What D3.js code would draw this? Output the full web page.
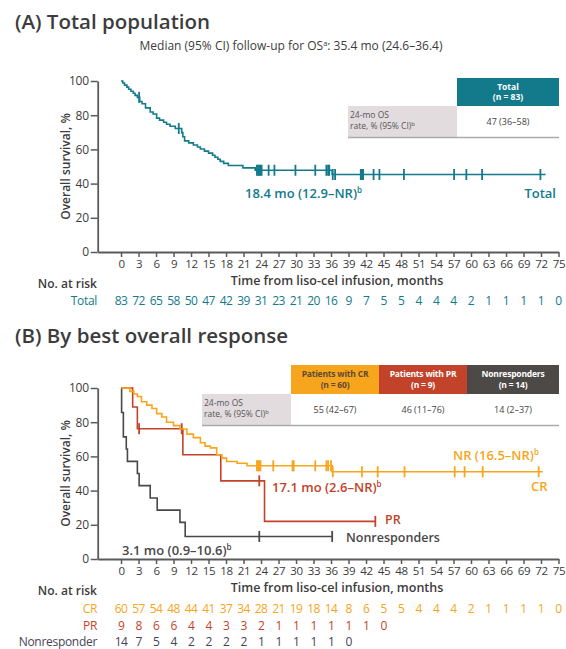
<!DOCTYPE html>
<html><head><meta charset="utf-8">
<script src="https://cdn.jsdelivr.net/npm/d3@7"></script>
<style>
body{margin:0;background:#fff}
svg{display:block}
text{font-family:"Open Sans",Lato,sans-serif}
</style>
</head><body>
<svg id="c" width="566" height="649"></svg>
<script>
// ---------- data ----------
const months = d3.range(0, 76, 3);
const yTicks = [0, 20, 40, 60, 80, 100];

// Panel A: total population
const totalTimes = [0, 0.3, 0.6, 1.0, 1.3, 1.7, 2.1, 2.4, 2.8, 3.2, 3.6, 4.2, 5.0, 5.5, 6.1, 6.6, 7.3, 7.8, 8.4, 9.3, 10.4, 10.6, 10.9, 11.6, 12.4, 13.1, 13.6, 14.3, 15.0, 15.7, 16.1, 16.6, 17.0, 17.6, 18.4, 20.9, 23.0, 36.2];
const totalSurv  = [100, 98.8, 97.6, 96.4, 95.2, 94.0, 92.8, 91.6, 90.4, 88.0, 86.7, 84.3, 81.9, 80.7, 78.3, 77.1, 75.9, 74.7, 73.5, 72.2, 69.8, 67.4, 65.0, 63.8, 62.6, 61.4, 60.2, 59.0, 57.8, 56.6, 55.4, 54.2, 53.0, 51.8, 50.6, 49.2, 47.8, 45.3];
const totalCensor = [3.1, 9.9, 23.3, 23.5, 23.7, 23.9, 24.1, 25.3, 26.3, 29.9, 33.3, 35.2, 35.5, 35.7, 36.3, 36.7, 41.1, 41.3, 41.5, 43.3, 44.3, 48.5, 57.1, 59.2, 61.9, 71.9];
const totalEnd = 72.8;
const riskTotal = [83, 72, 65, 58, 50, 47, 42, 39, 31, 23, 21, 20, 16, 9, 7, 5, 5, 4, 4, 4, 2, 1, 1, 1, 1, 0];

// Panel B: by best overall response
const crTimes = [0, 1.5, 2.2, 2.8, 3.5, 4.4, 5.3, 6.1, 7.0, 7.8, 9.0, 10.1, 11.3, 12.4, 13.6, 14.4, 15.3, 16.4, 17.3, 18.1, 19.9, 21.6, 36.2];
const crSurv  = [100, 98, 96.5, 95, 92, 90, 88, 85, 83, 80, 78, 76, 73, 71, 68, 66, 65, 61, 59, 57, 56, 54.5, 51];
const crCensor = [23.3, 23.5, 23.7, 23.9, 26.1, 29.4, 29.6, 33.3, 35.2, 35.5, 36.0, 36.3, 41.3, 44.0, 48.6, 57.2, 58.9, 62.0, 71.6];
const crEnd = 72.3;

const prTimes = [0, 2.0, 2.8, 10.6, 17.1, 24.6];
const prSurv  = [100, 88.9, 76.2, 61.0, 45.7, 22.0];
const prCensor = [3.1, 10.4, 23.7, 43.6];
const prEnd = 43.6;

const nrTimes = [0, 0.1, 0.4, 0.9, 1.1, 2.8, 3.1, 5.0, 6.2, 10.1, 11.0];
const nrSurv  = [100, 85.7, 71.4, 64.3, 57.1, 50, 42.9, 35.7, 28.6, 21.4, 13.2];
const nrCensor = [23.7, 36.2];
const nrEnd = 36.2;

const riskCR = [60, 57, 54, 48, 44, 41, 37, 34, 28, 21, 19, 18, 14, 8, 6, 5, 5, 4, 4, 4, 2, 1, 1, 1, 1, 0];
const riskPR = [9, 8, 6, 6, 4, 4, 3, 3, 2, 1, 1, 1, 1, 1, 1, 0];
const riskNR = [14, 7, 5, 4, 2, 2, 2, 2, 1, 1, 1, 1, 1, 0];

// tables
const tableAHeader = ["Total", "(n = 83)"];
const tableAValues = ["47 (36\u201358)"];
const tableBHeaders = [["Patients with CR", "(n = 60)"], ["Patients with PR", "(n = 9)"], ["Nonresponders", "(n = 14)"]];
const tableBValues = ["55 (42\u201367)", "46 (11\u201376)", "14 (2\u201337)"];

// ---------- styles ----------
const C = {teal: "#137a8b", cr: "#f7a51d", pr: "#c2432a", nr: "#4a4747", axis: "#5a5a5a", text: "#3c3c3c", cell: "#e3dcdf"};

const svg = d3.select("#c");
const x = d3.scaleLinear().domain([-4, 75]).range([97.7, 558.5]);

function title(txt, y) {
  svg.append("text").attr("x", 15).attr("y", y).attr("font-size", 20.5).attr("font-weight", 600)
    .attr("fill", C.text).text(txt);
}

function axes(y, top, bottom) {
  const gx = svg.append("g").attr("transform", `translate(0,${bottom})`)
    .call(d3.axisBottom(x).tickValues(months).tickSize(5).tickSizeOuter(0).tickPadding(3));
  const gy = svg.append("g").attr("transform", `translate(97.7,0)`)
    .call(d3.axisLeft(y).tickValues(yTicks).tickSize(7).tickSizeOuter(0).tickPadding(2));
  [gx, gy].forEach(g => {
    g.selectAll("path,line").attr("stroke", C.axis).attr("stroke-width", 1.5);
    g.select(".domain").attr("stroke-width", 1.8);
  });
  gx.selectAll("text").attr("font-size", 11.5).attr("fill", C.text).attr("font-family", "Open Sans").attr("letter-spacing", -0.4);
  gy.selectAll("text").attr("font-size", 12).attr("fill", C.text).attr("font-family", "Open Sans").attr("letter-spacing", -0.3);
  svg.append("text").attr("transform", `translate(70,${(top + bottom) / 2}) rotate(-90)`)
    .attr("text-anchor", "middle").attr("font-size", 12).attr("font-weight", 600).attr("fill", C.text)
    .text("Overall survival, %");
  svg.append("text").attr("x", 337).attr("y", bottom + 33).attr("text-anchor", "middle")
    .attr("font-size", 12.5).attr("font-weight", 600).attr("fill", C.text)
    .text("Time from liso-cel infusion, months");
  svg.append("text").attr("x", 97).attr("y", bottom + 36).attr("text-anchor", "end")
    .attr("font-size", 12).attr("font-weight", 600).attr("fill", C.text).text("No. at risk");
}

function curve(y, times, surv, censor, end, color) {
  const pts = times.map((t, i) => [t, surv[i]]).concat([[end, surv[surv.length - 1]]]);
  const line = d3.line().x(d => x(d[0])).y(d => y(d[1])).curve(d3.curveStepAfter);
  svg.append("path").attr("d", line(pts)).attr("fill", "none").attr("stroke", color).attr("stroke-width", 1.6);
  const sAt = t => { let v = surv[0]; times.forEach((tt, i) => { if (tt <= t) v = surv[i]; }); return v; };
  svg.append("g").selectAll("line").data(censor).join("line")
    .attr("x1", d => x(d)).attr("x2", d => x(d))
    .attr("y1", d => y(sAt(d)) - 5.5).attr("y2", d => y(sAt(d)) + 5.5)
    .attr("stroke", color).attr("stroke-width", 1.8);
}

function riskRow(values, label, color, yy) {
  svg.append("text").attr("x", 97).attr("y", yy).attr("text-anchor", "end").attr("font-size", 12)
    .attr("fill", color).attr("letter-spacing", -0.3).text(label);
  svg.append("g").selectAll("text").data(values).join("text")
    .attr("x", (d, i) => x(months[i])).attr("y", yy).attr("text-anchor", "middle")
    .attr("font-size", 12).attr("letter-spacing", -0.6).attr("fill", color).text(d => d);
}

function label(parts, xx, yy, color, anchor, size) {
  const t = svg.append("text").attr("x", xx).attr("y", yy).attr("font-size", size || 13).attr("font-weight", 600)
    .attr("fill", color).attr("text-anchor", anchor || "start");
  t.append("tspan").text(parts[0]);
  if (parts[1]) t.append("tspan").attr("dy", -5).attr("font-size", 8).text(parts[1]);
}

// ---------- Panel A ----------
title("(A) Total population", 29);
svg.append("text").attr("x", 291).attr("y", 50).attr("text-anchor", "middle").attr("font-size", 12)
  .attr("fill", C.text).call(t => {
    t.append("tspan").text("Median (95% CI) follow-up for OS");
    t.append("tspan").attr("dy", -4).attr("font-size", 7.5).text("a");
    t.append("tspan").attr("dy", 4).text(": 35.4 mo (24.6\u201336.4)");
  });

const yA = d3.scaleLinear().domain([0, 100]).range([252, 81]);
axes(yA, 81, 252);
curve(yA, totalTimes, totalSurv, totalCensor, totalEnd, C.teal);
label(["18.4 mo (12.9\u2013NR)", "b"], 245, 198, C.teal);
label(["Total"], 556, 198, C.teal, "end");
riskRow(riskTotal, "Total", C.teal, 305);

// table A
svg.append("rect").attr("x", 457).attr("y", 78).attr("width", 102).attr("height", 28).attr("fill", C.teal);
tableAHeader.forEach((s, i) => svg.append("text").attr("x", 508).attr("y", 89.5 + i * 10.5)
  .attr("text-anchor", "middle").attr("font-size", 8.5).attr("font-weight", 700).attr("fill", "#fff").text(s));
svg.append("rect").attr("x", 348).attr("y", 106).attr("width", 109).attr("height", 31).attr("fill", C.cell);
svg.append("text").attr("x", 350).attr("y", 118).attr("font-size", 8.5).attr("fill", "#555").text("24-mo OS");
svg.append("text").attr("x", 350).attr("y", 129).attr("font-size", 8.5).attr("fill", "#555")
  .call(t => { t.append("tspan").text("rate, % (95% CI)"); t.append("tspan").attr("dy", -3).attr("font-size", 6).text("b"); });
tableAValues.forEach(s => svg.append("text").attr("x", 508).attr("y", 125).attr("text-anchor", "middle")
  .attr("font-size", 9).attr("fill", "#444").text(s));
svg.append("line").attr("x1", 348).attr("x2", 559).attr("y1", 137.5).attr("y2", 137.5).attr("stroke", "#aaa").attr("stroke-width", 1.5);

// ---------- Panel B ----------
title("(B) By best overall response", 343);
const yB = d3.scaleLinear().domain([0, 100]).range([559, 388]);
axes(yB, 388, 559);
curve(yB, nrTimes, nrSurv, nrCensor, nrEnd, C.nr);
curve(yB, prTimes, prSurv, prCensor, prEnd, C.pr);
curve(yB, crTimes, crSurv, crCensor, crEnd, C.cr);

label(["NR (16.5\u2013NR)", "b"], 453, 460, C.cr);
label(["CR"], 531, 491, C.cr);
label(["17.1 mo (2.6\u2013NR)", "b"], 272, 492, C.pr);
label(["PR"], 385, 524, C.pr, "start", 12.5);
label(["Nonresponders"], 346, 541.5, C.nr, "start", 12.5);
label(["3.1 mo (0.9\u201310.6)", "b"], 122, 555, C.nr);

riskRow(riskCR, "CR", C.cr, 613);
riskRow(riskPR, "PR", C.pr, 630);
riskRow(riskNR, "Nonresponder", "#444455", 646);

// table B
const colX = [291, 379, 467, 559];
const hdrFill = [C.cr, C.pr, "#4d4947"];
const hdrText = ["#5b4a36", "#fff", "#fff"];
tableBHeaders.forEach((h, i) => {
  svg.append("rect").attr("x", colX[i]).attr("y", 365).attr("width", colX[i + 1] - colX[i]).attr("height", 29).attr("fill", hdrFill[i]);
  h.forEach((s, j) => svg.append("text").attr("x", (colX[i] + colX[i + 1]) / 2).attr("y", 377 + j * 10.5)
    .attr("text-anchor", "middle").attr("font-size", 8.5).attr("font-weight", 700).attr("fill", hdrText[i]).attr("letter-spacing", -0.2).text(s));
  svg.append("text").attr("x", (colX[i] + colX[i + 1]) / 2).attr("y", 413).attr("text-anchor", "middle")
    .attr("font-size", 9).attr("fill", "#444").text(tableBValues[i]);
});
svg.append("rect").attr("x", 202).attr("y", 394).attr("width", 89).attr("height", 31).attr("fill", C.cell);
svg.append("text").attr("x", 204).attr("y", 406).attr("font-size", 8.5).attr("fill", "#555").text("24-mo OS");
svg.append("text").attr("x", 204).attr("y", 417).attr("font-size", 8.5).attr("fill", "#555")
  .call(t => { t.append("tspan").text("rate, % (95% CI)"); t.append("tspan").attr("dy", -3).attr("font-size", 6).text("b"); });
svg.append("line").attr("x1", 202).attr("x2", 559).attr("y1", 425.5).attr("y2", 425.5).attr("stroke", "#aaa").attr("stroke-width", 1.5);
</script>
</body></html>
